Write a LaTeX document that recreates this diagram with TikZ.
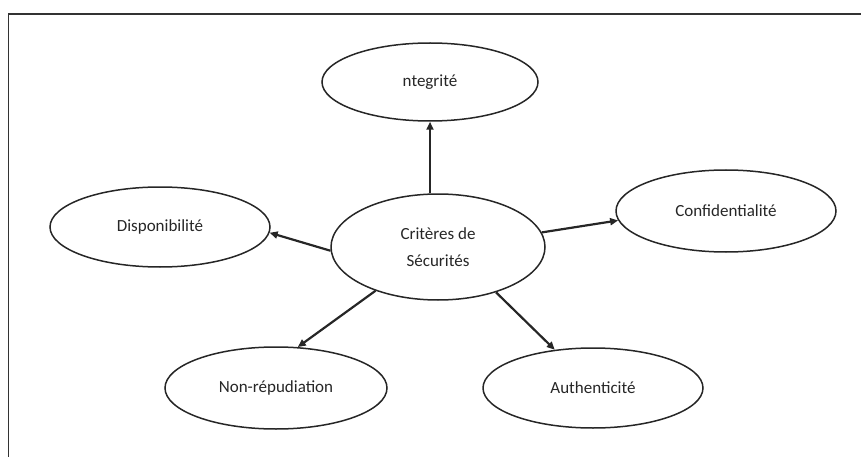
\documentclass[tikz,border=0pt]{standalone}
\usepackage{fontspec}
\setmainfont{Carlito}
\usetikzlibrary{shapes.geometric,arrows.meta}
\begin{document}
\begin{tikzpicture}[x=1pt,y=-1pt,
  crit/.style={draw=black!85,line width=1.5pt,ellipse,minimum width=220pt,minimum height=80pt,inner sep=0pt,font=\fontsize{17}{20}\selectfont,text=black!85},
  link/.style={draw=black!85,line width=2.2pt,-{Triangle[length=8pt,width=7pt]}}]
  \useasboundingbox (0,0) rectangle (861,457);
  % frame: top and left rules
  \draw[black!80,line width=1.2pt] (861,14) -- (8.5,14) -- (8.5,457);
  % criteria
  \node[crit,minimum width=214pt,minimum height=106pt,align=center] (c) at (438,247) {Critères de\\[7pt]Sécurités};
  \node[crit,minimum width=216pt,minimum height=78pt] (int) at (430,82) {ntegrité};
  \node[crit] (dis) at (160,227) {Disponibilité};
  \node[crit,minimum height=82pt] (con) at (726,211) {Confidentialité};
  \node[crit,minimum width=222pt,minimum height=82pt] (non) at (276,388) {Non-répudiation};
  \node[crit] (aut) at (593,388) {Authenticité};
  % arrows from the centre
  \draw[link] (c.north -| int.south) -- (int.south);
  \draw[link] (c.182) -- (dis.-3);
  \draw[link] (c.8) -- (con.185);
  \draw[link] (c.215) -- (non.62);
  \draw[link] (c.-38) -- (aut.135);
\end{tikzpicture}
\end{document}
